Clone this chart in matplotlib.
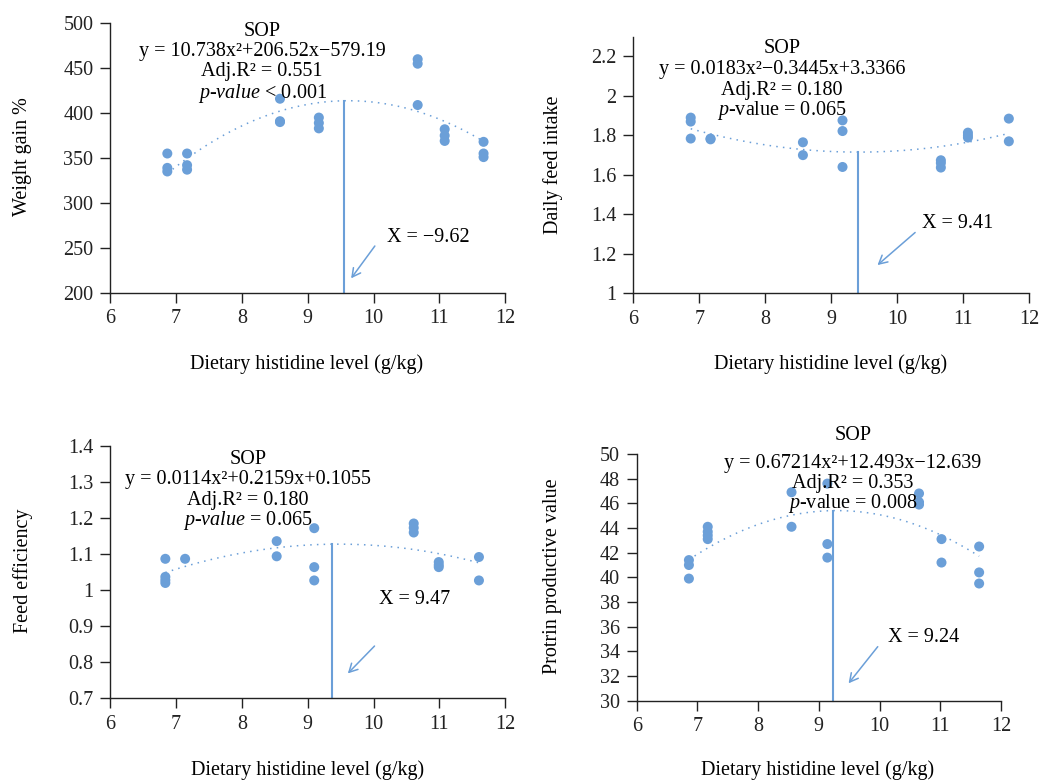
import matplotlib
matplotlib.use("Agg")
import matplotlib.pyplot as plt
import numpy as np

plt.rcParams['font.family'] = ['Liberation Serif', 'DejaVu Serif']
plt.rcParams['mathtext.fontset'] = 'custom'
plt.rcParams['mathtext.rm'] = 'Liberation Serif'
plt.rcParams['mathtext.it'] = 'Liberation Serif:italic'
plt.rcParams['mathtext.bf'] = 'Liberation Serif:bold'

# ---------------- data ----------------
# Panel 1: Weight gain %
wg_x = [6.87, 6.87, 6.87, 7.17, 7.17, 7.17, 8.58, 8.58, 8.58, 9.17, 9.17, 9.17,
        10.67, 10.67, 10.67, 11.08, 11.08, 11.08, 11.67, 11.67, 11.67]
wg_y = [355, 339, 335, 355, 342, 337, 416, 391, 390, 395, 389, 383,
        460, 455, 409, 382, 375, 369, 368, 355, 351]
wg_coef = [-10.738, 206.52, -579.19]
wg_vline = 9.55

# Panel 2: Daily feed intake
dfi_x = [6.87, 6.87, 6.87, 7.17, 7.17, 8.57, 8.57, 9.17, 9.17, 9.17,
         10.66, 10.66, 10.66, 11.07, 11.07, 11.07, 11.69, 11.69]
dfi_y = [1.89, 1.87, 1.784, 1.784, 1.78, 1.765, 1.70, 1.876, 1.822, 1.640,
         1.674, 1.66, 1.637, 1.814, 1.80, 1.789, 1.885, 1.770]
dfi_coef = [0.0183, -0.3445, 3.3366]
dfi_vline = 9.41

# Panel 3: Feed efficiency
fe_x = [6.84, 6.84, 6.84, 6.84, 7.14, 8.53, 8.53, 9.10, 9.10, 9.10,
        10.61, 10.61, 10.61, 10.99, 10.99, 10.99, 11.60, 11.60]
fe_y = [1.087, 1.037, 1.028, 1.020, 1.087, 1.136, 1.094, 1.172, 1.064, 1.027,
        1.185, 1.173, 1.160, 1.078, 1.070, 1.064, 1.092, 1.027]
fe_coef = [-0.0114, 0.2159, 0.1055]
fe_vline = 9.37

# Panel 4: Protein productive value
ppv_x = [6.86, 6.86, 6.86, 7.17, 7.17, 7.17, 7.17, 8.55, 8.55, 9.14, 9.14, 9.14,
         10.65, 10.65, 10.65, 11.02, 11.02, 11.64, 11.64, 11.64]
ppv_y = [41.4, 41.0, 39.9, 44.1, 43.7, 43.4, 43.1, 46.9, 44.1, 47.6, 42.7, 41.6,
         46.8, 46.1, 45.9, 43.1, 41.2, 42.5, 40.4, 39.5]
ppv_coef = [-0.67214, 12.493, -12.639]
ppv_vline = 9.23

xticks = [6, 7, 8, 9, 10, 11, 12]
xlabel = "Dietary histidine level (g/kg)"

BLUE = '#6b9fd8'
W, H = 1041, 782
FS = 14.5

fig = plt.figure(figsize=(W / 100, H / 100), dpi=100)


def rect(l, r, t, b):
    return [l / W, 1 - b / H, (r - l) / W, (b - t) / H]


def fig_text(x, y, s, **kw):
    fig.text(x / W, 1 - y / H, s, ha='center', va='center', fontsize=FS, **kw)


panels = [
    dict(r=rect(110, 505.3, 23.3, 292.7), x=wg_x, y=wg_y, coef=wg_coef, vx=wg_vline,
         ylim=(200, 500), yticks=[200, 250, 300, 350, 400, 450, 500],
         ylabel="Weight gain %", ylab_pos=(23, 157), xlab_pos=(307, 364),
         tx=8.31, ty=[490.6, 468.4, 446.1, 422.0],
         lines=["SOP", "y = 10.738x²+206.52x−579.19", "Adj.R² = 0.551", r"$p$-$value$ < 0.001"],
         xlbl="X = −9.62", xlbl_xy=(10.21, 262), arr_tail=(10.02, 252), arr_head=(9.66, 216)),
    dict(r=rect(633.3, 1029.3, 36.7, 293.3), x=dfi_x, y=dfi_y, coef=dfi_coef, vx=dfi_vline,
         ylim=(1, 2.3), yticks=[1, 1.2, 1.4, 1.6, 1.8, 2.0, 2.2],
         ylabel="Daily feed intake", ylab_pos=(553, 165), xlab_pos=(831, 364),
         tx=8.25, ty=[2.239, 2.133, 2.028, 1.927],
         lines=["SOP", "y = 0.0183x²−0.3445x+3.3366", "Adj.R² = 0.180", r"$p$-value = 0.065"],
         xlbl="X = 9.41", xlbl_xy=(10.37, 1.354), arr_tail=(10.27, 1.308), arr_head=(9.70, 1.143)),
    dict(r=rect(110, 505.3, 446, 698.3), x=fe_x, y=fe_y, coef=fe_coef, vx=fe_vline,
         ylim=(0.7, 1.4), yticks=[0.7, 0.8, 0.9, 1.0, 1.1, 1.2, 1.3, 1.4],
         ylabel="Feed efficiency", ylab_pos=(23, 571), xlab_pos=(308, 770),
         tx=8.09, ty=[1.363, 1.3077, 1.248, 1.193],
         lines=["SOP", "y = 0.0114x²+0.2159x+0.1055", "Adj.R² = 0.180", r"$p$-$value$ = 0.065"],
         xlbl="X = 9.47", xlbl_xy=(10.08, 0.973), arr_tail=(10.015, 0.845), arr_head=(9.61, 0.769)),
    dict(r=rect(636.7, 1001, 454, 700.7), x=ppv_x, y=ppv_y, coef=ppv_coef, vx=ppv_vline,
         ylim=(30, 50), yticks=list(range(30, 51, 2)),
         ylabel="Protrin productive value", ylab_pos=(553, 576), xlab_pos=(818, 770),
         tx=9.56, ty=[51.54, 49.25, 47.62, 45.95],
         lines=["SOP", "y = 0.67214x²+12.493x−12.639", "Adj.R² = 0.353", r"$p$-value = 0.008"],
         xlbl="X = 9.24", xlbl_xy=(10.145, 35.14), arr_tail=(9.97, 34.38), arr_head=(9.49, 31.41)),
]

for p in panels:
    ax = fig.add_axes(p['r'])
    a, b, c = p['coef']
    xs = np.linspace(min(p['x']), max(p['x']), 200)
    ax.plot(xs, a * xs ** 2 + b * xs + c, color=BLUE, lw=1.1, linestyle=(0, (1, 3.4)), zorder=2)
    ax.scatter(p['x'], p['y'], s=52, color=BLUE, edgecolors='none', zorder=3)
    vy = a * p['vx'] ** 2 + b * p['vx'] + c
    ax.plot([p['vx'], p['vx']], [p['ylim'][0], vy], color=BLUE, lw=1.5, zorder=2, clip_on=False)
    ax.annotate('', xy=p['arr_head'], xytext=p['arr_tail'],
                arrowprops=dict(arrowstyle='->,head_length=0.6,head_width=0.32', color=BLUE, lw=1.1,
                                shrinkA=0, shrinkB=0))
    ax.text(p['xlbl_xy'][0], p['xlbl_xy'][1], p['xlbl'], ha='left', va='center', fontsize=FS)
    for s, yy in zip(p['lines'], p['ty']):
        ax.text(p['tx'], yy, s, ha='center', va='center', fontsize=FS, clip_on=False)

    ax.set_xlim(6, 12)
    ax.set_ylim(*p['ylim'])
    ax.set_xticks(xticks)
    ax.set_xticklabels([str(t) for t in xticks])
    ax.set_yticks(p['yticks'])
    ax.set_yticklabels([f"{v:g}" for v in p['yticks']])
    for side in ['top', 'right']:
        ax.spines[side].set_visible(False)
    for side in ['left', 'bottom']:
        ax.spines[side].set_linewidth(1.0)
        ax.spines[side].set_color('#222222')
    ax.tick_params(direction='out', length=7, width=1.0, labelsize=FS, colors='#222222',
                   labelcolor='#222222', pad=5)
    ax.patch.set_alpha(0)
    fig_text(p['ylab_pos'][0], p['ylab_pos'][1], p['ylabel'], rotation=90)
    fig_text(p['xlab_pos'][0], p['xlab_pos'][1], xlabel)

fig.savefig('out.png', dpi=100)
